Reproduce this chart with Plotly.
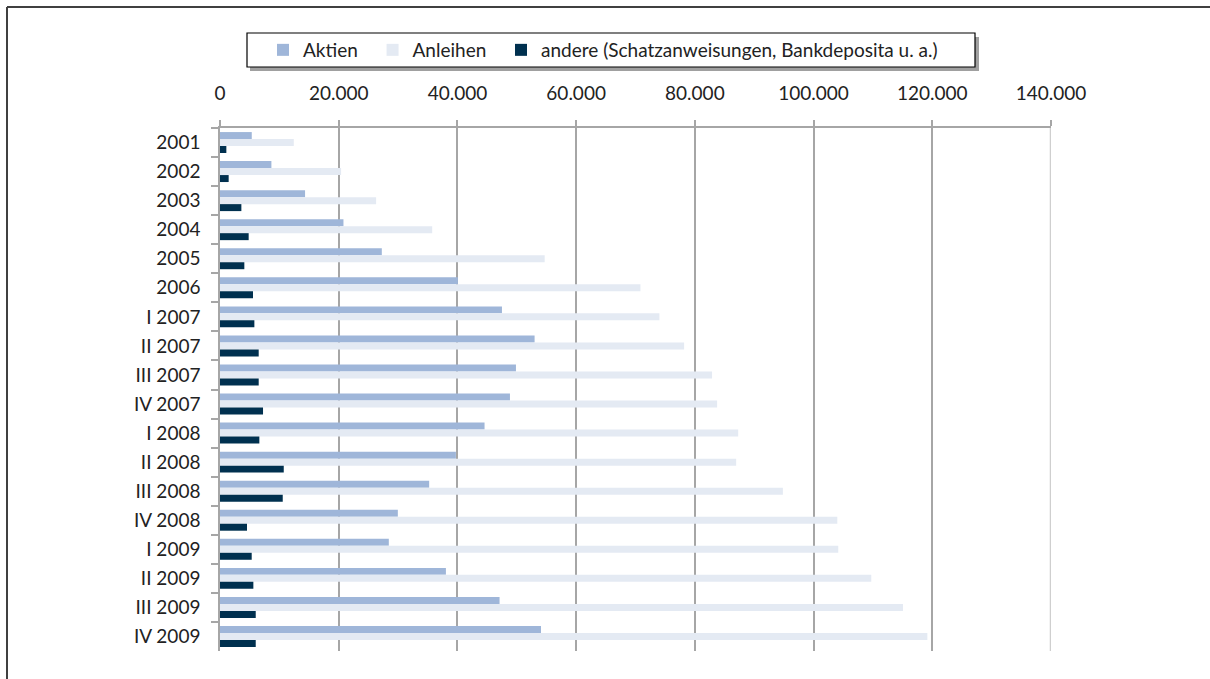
import plotly.graph_objects as go

categories = ["2001", "2002", "2003", "2004", "2005", "2006",
              "I 2007", "II 2007", "III 2007", "IV 2007",
              "I 2008", "II 2008", "III 2008", "IV 2008",
              "I 2009", "II 2009", "III 2009", "IV 2009"]
aktien = [5350, 8660, 14330, 20800, 27260, 40080,
          47500, 53000, 49860, 48850,
          44570, 39740, 35240, 29960,
          28440, 38060, 47100, 54080]
anleihen = [12430, 20400, 26300, 35750, 54700, 70830,
            74030, 78190, 82900, 83750,
            87300, 86960, 94830, 104000,
            104160, 109720, 115060, 119170]
andere = [1070, 1460, 3600, 4830, 4100, 5560,
          5790, 6520, 6520, 7250,
          6630, 10740, 10570, 4550,
          5340, 5620, 6020, 6020]
series_names = ["Aktien", "Anleihen", "andere (Schatzanweisungen, Bankdeposita u. a.)"]
x_ticks = [0, 20000, 40000, 60000, 80000, 100000, 120000, 140000]

colors = ["#9FB6D9", "#E4EAF3", "#00304F"]
FONT = "Lato"

fig = go.Figure()
for name, vals, col in zip(series_names, [aktien, anleihen, andere], colors):
    fig.add_trace(go.Bar(y=categories, x=vals, name=name + "\u00a0\u00a0", orientation="h",
                         marker=dict(color=col, line=dict(width=0))))

W, H = 1210, 679
L, R, T, B = 220, 159, 128, 28
pw, ph = W - L - R, H - T - B

def px(xp):
    return (xp - L) / pw

def py(yp):
    return (H - B - yp) / ph

fig.update_layout(
    width=W, height=H,
    margin=dict(l=L, r=R, t=T, b=B, pad=0),
    paper_bgcolor="white", plot_bgcolor="white",
    barmode="group", bargap=0.28, bargroupgap=0,
    separators=",.",
    font=dict(family=FONT, size=19, color="#222222"),
    showlegend=True,
    legend=dict(orientation="h", x=px(263), y=py(50), xanchor="left", yanchor="middle",
                bgcolor="rgba(0,0,0,0)", borderwidth=0,
                font=dict(family=FONT, size=19, color="#222222"),
                itemwidth=30, traceorder="normal"),
    xaxis=dict(side="top", range=[0, 140000], tickvals=x_ticks, tickformat=",d",
               showgrid=True, gridcolor="#A6A6A6", gridwidth=1.5,
               showline=True, linecolor="#A6A6A6", linewidth=1.5,
               ticks="outside", ticklen=6, tickcolor="#A6A6A6", tickwidth=1.5,
               ticklabelstandoff=13, zeroline=False, fixedrange=True),
    yaxis=dict(autorange="reversed", type="category",
               showline=True, linecolor="#A6A6A6", linewidth=1.5,
               ticks="outside", tickson="boundaries", ticklen=7, tickcolor="#A6A6A6",
               tickwidth=1.5, ticklabelstandoff=14, showgrid=False, fixedrange=True),
    shapes=[
        # right edge line at 140.000
        dict(type="line", xref="x", yref="paper", x0=140000, x1=140000, y0=0, y1=1,
             line=dict(color="#CFCFCF", width=2.5)),
        # legend shadow
        dict(type="rect", xref="paper", yref="paper",
             x0=px(250), x1=px(979), y0=py(71), y1=py(37),
             fillcolor="#A0A0A0", line=dict(width=0), layer="above"),
        # legend box
        dict(type="rect", xref="paper", yref="paper",
             x0=px(247), x1=px(975), y0=py(67), y1=py(33),
             fillcolor="white", line=dict(color="#000000", width=1.2), layer="above"),
        # outer frame (top and left)
        dict(type="line", xref="paper", yref="paper",
             x0=px(7), x1=px(1210), y0=py(7), y1=py(7),
             line=dict(color="#404040", width=2)),
        dict(type="line", xref="paper", yref="paper",
             x0=px(7), x1=px(7), y0=py(7), y1=py(679),
             line=dict(color="#404040", width=2)),
    ],
)

fig.write_html("out.html", config={"displayModeBar": False},
               post_script="document.body.style.margin='0px';")
